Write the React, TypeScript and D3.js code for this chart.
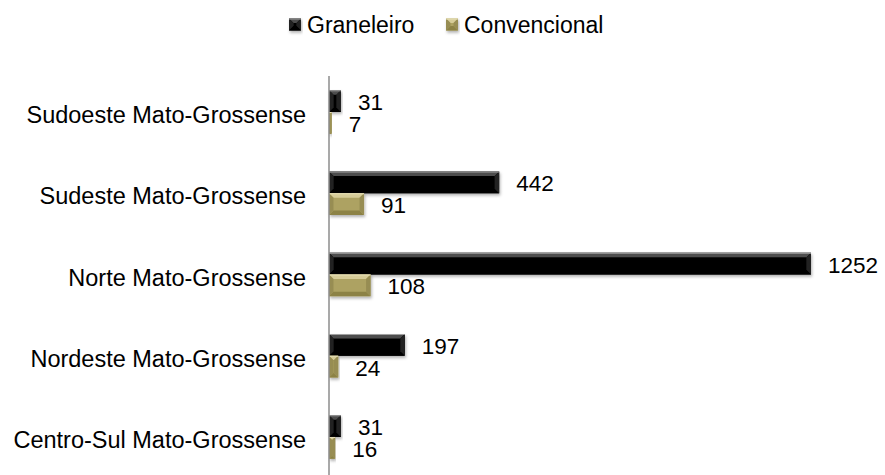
import { useMemo } from 'react';
import * as d3 from 'd3';

const categories = [
  'Sudoeste Mato-Grossense',
  'Sudeste Mato-Grossense',
  'Norte Mato-Grossense',
  'Nordeste Mato-Grossense',
  'Centro-Sul Mato-Grossense',
];
const seriesNames = ['Graneleiro', 'Convencional'];
const graneleiro = [31, 442, 1252, 197, 31];
const convencional = [7, 91, 108, 24, 16];

const W = 885;
const H = 475;
const FONT = 'Liberation Sans, Arial, sans-serif';

// colours per series: base, top bevel, bottom bevel, side bevel
const palette = [
  { base: '#050505', top: '#4e4e4e', bottom: '#000000', side: '#222222', edge: '#a0a0a0' },
  { base: '#ada262', top: '#d6cc98', bottom: '#8c8245', side: '#978d52', edge: '#e6dfb8' },
];

// a bar with a soft bevel on its four edges
const BevelBar = ({ x0, x1, y, h, s }: { x0: number; x1: number; y: number; h: number; s: number }) => {
  const c = palette[s];
  const w = Math.max(x1 - x0, 0.5);
  const b = Math.min(4.5, w / 2, h / 2);
  const X0 = x0, X1 = x0 + w, Y0 = y, Y1 = y + h;
  const pts = (a: number[][]) => a.map(p => p.join(',')).join(' ');
  return (
    <g filter="url(#shadow)">
      <rect x={X0} y={Y0} width={w} height={h} fill={c.base} />
      <polygon points={pts([[X0, Y0], [X1, Y0], [X1 - b, Y0 + b], [X0 + b, Y0 + b]])} fill={c.top} />
      <polygon points={pts([[X0, Y1], [X1, Y1], [X1 - b, Y1 - b], [X0 + b, Y1 - b]])} fill={c.bottom} />
      <polygon points={pts([[X1, Y0], [X1, Y1], [X1 - b, Y1 - b], [X1 - b, Y0 + b]])} fill={c.side} />
      <polygon points={pts([[X0, Y0], [X0, Y1], [X0 + b, Y1 - b], [X0 + b, Y0 + b]])} fill={c.side} />
      <line x1={X0} x2={X1} y1={Y0 + 0.5} y2={Y0 + 0.5} stroke={c.edge} strokeWidth={1} />
    </g>
  );
};

const App = () => {
  const values = [graneleiro, convencional];

  const xScale = useMemo(
    () => d3.scaleLinear().domain([0, d3.max(graneleiro) as number]).range([329, 811]),
    []
  );
  const yScale = useMemo(
    () => d3.scaleBand<string>().domain(categories).range([71.4, 477.6]).paddingInner(0).paddingOuter(0),
    []
  );
  const groupH = yScale.bandwidth() * 0.535;
  const sub = d3.scaleBand<string>().domain(seriesNames).range([0, groupH]);

  return (
    <svg width={W} height={H} style={{ position: 'absolute', left: 0, top: 0, background: '#fff' }}>
      <defs>
        <filter id="shadow" x="-10%" y="-30%" width="120%" height="180%">
          <feDropShadow dx="1" dy="2" stdDeviation="1.6" floodColor="#000" floodOpacity="0.3" />
        </filter>
      </defs>

      {/* legend */}
      {seriesNames.map((name, i) => {
        const lx = [289, 446][i];
        return (
          <g key={name}>
            <BevelBar x0={lx} x1={lx + 12} y={18.5} h={12} s={i} />
            <text x={lx + 18} y={25} dominantBaseline="central" fontFamily={FONT} fontSize={23} fill="#000">
              {name}
            </text>
          </g>
        );
      })}

      {/* bars */}
      {categories.map((cat, ci) => {
        const gy = (yScale(cat) as number) + (yScale.bandwidth() - groupH) / 2;
        return (
          <g key={cat}>
            <text
              x={306}
              y={(yScale(cat) as number) + yScale.bandwidth() / 2 + 3}
              textAnchor="end"
              dominantBaseline="central"
              fontFamily={FONT}
              fontSize={23.5}
              fill="#000"
            >
              {cat}
            </text>
            {seriesNames.map((sn, si) => {
              const v = values[si][ci];
              const by = gy + (sub(sn) as number);
              return (
                <g key={sn}>
                  <BevelBar x0={xScale(0)} x1={xScale(v)} y={by} h={sub.bandwidth()} s={si} />
                  <text
                    x={xScale(v) + 17}
                    y={by + sub.bandwidth() / 2 + 1.5}
                    dominantBaseline="central"
                    fontFamily={FONT}
                    fontSize={22.5}
                    fill="#000"
                  >
                    {v}
                  </text>
                </g>
              );
            })}
          </g>
        );
      })}

      {/* axis */}
      <line x1={xScale(0)} x2={xScale(0)} y1={76} y2={H} stroke="#8c8c8c" strokeWidth={1.5} />
    </svg>
  );
};

export default App;
